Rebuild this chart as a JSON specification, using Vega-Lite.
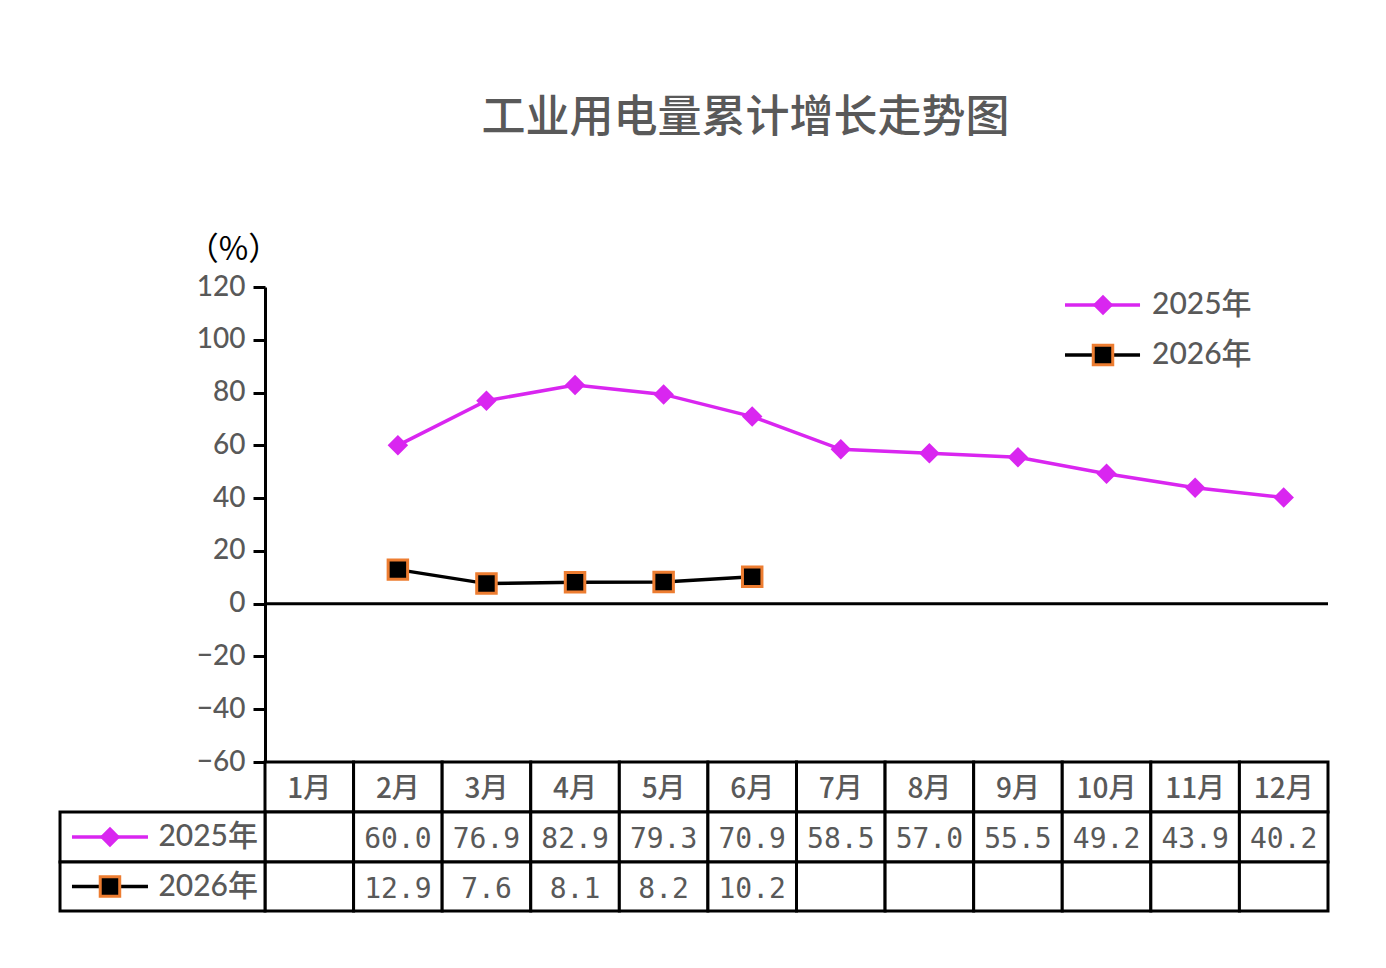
{
  "$schema": "https://vega.github.io/schema/vega-lite/v6.json",
  "description": "工业用电量累计增长走势图",
  "width": 1063,
  "height": 475,
  "autosize": {"type": "none"},
  "padding": {"left": 265, "top": 287, "right": 58, "bottom": 206},
  "background": "white",
  "title": {
    "text": "工业用电量累计增长走势图",
    "font": "Noto Sans CJK SC",
    "fontSize": 44,
    "fontWeight": 500,
    "color": "#595959",
    "anchor": "middle",
    "frame": "group",
    "dx": -51,
    "baseline": "bottom",
    "offset": 48
  },
  "config": {"view": {"stroke": null}, "scale": {"continuousPadding": 0}},
  "resolve": {"axis": {"x": "independent", "y": "independent"}},
  "datasets": {
    "points": [
      {"month": 2, "series": "2025年", "value": 60.0},
      {"month": 3, "series": "2025年", "value": 76.9},
      {"month": 4, "series": "2025年", "value": 82.9},
      {"month": 5, "series": "2025年", "value": 79.3},
      {"month": 6, "series": "2025年", "value": 70.9},
      {"month": 7, "series": "2025年", "value": 58.5},
      {"month": 8, "series": "2025年", "value": 57.0},
      {"month": 9, "series": "2025年", "value": 55.5},
      {"month": 10, "series": "2025年", "value": 49.2},
      {"month": 11, "series": "2025年", "value": 43.9},
      {"month": 12, "series": "2025年", "value": 40.2},
      {"month": 2, "series": "2026年", "value": 12.9},
      {"month": 3, "series": "2026年", "value": 7.6},
      {"month": 4, "series": "2026年", "value": 8.1},
      {"month": 5, "series": "2026年", "value": 8.2},
      {"month": 6, "series": "2026年", "value": 10.2}
    ],
    "months": [
      {"month": 1, "label": "1月"},
      {"month": 2, "label": "2月"},
      {"month": 3, "label": "3月"},
      {"month": 4, "label": "4月"},
      {"month": 5, "label": "5月"},
      {"month": 6, "label": "6月"},
      {"month": 7, "label": "7月"},
      {"month": 8, "label": "8月"},
      {"month": 9, "label": "9月"},
      {"month": 10, "label": "10月"},
      {"month": 11, "label": "11月"},
      {"month": 12, "label": "12月"}
    ],
    "series": [
      {"series": "2025年"},
      {"series": "2026年"}
    ]
  },
  "data": {"name": "points"},
  "layer": [
    {
      "mark": {"type": "line", "strokeWidth": 3.5},
      "encoding": {
        "x": {
          "field": "month",
          "type": "quantitative",
          "scale": {"domain": [0.5, 12.5], "nice": false, "zero": false, "padding": 0},
          "axis": null
        },
        "y": {
          "field": "value",
          "type": "quantitative",
          "scale": {"domain": [-60, 120], "nice": false, "zero": false},
          "axis": {
            "orient": "left",
            "values": [-60, -40, -20, 0, 20, 40, 60, 80, 100, 120],
            "format": "d",
            "grid": false,
            "labelFont": "Lato",
            "labelFontSize": 28,
            "labelFontWeight": 500,
            "labelColor": "#595959",
            "labelPadding": 8,
            "tickColor": "black",
            "tickWidth": 3,
            "tickSize": 12,
            "domainColor": "black",
            "domainWidth": 3,
            "title": "（%）",
            "titleAngle": 0,
            "titleX": -32,
            "titleY": -38,
            "titleAlign": "center",
            "titleBaseline": "middle",
            "titleFont": "Noto Sans CJK SC",
            "titleFontSize": 32,
            "titleFontWeight": "normal",
            "titleColor": "black"
          }
        },
        "color": {
          "field": "series",
          "type": "nominal",
          "scale": {"domain": ["2025年", "2026年"], "range": ["#D926F0", "#000000"]},
          "legend": null
        }
      }
    },
    {
      "data": {"values": [{"baseline": 0}]},
      "mark": {"type": "rule", "color": "black", "strokeWidth": 3},
      "encoding": {
        "x": {"datum": 0.5, "type": "quantitative", "axis": null},
        "x2": {"datum": 12.5},
        "y": {"field": "baseline", "type": "quantitative", "axis": null}
      }
    },
    {
      "transform": [{"filter": "datum.series === '2025年'"}],
      "mark": {"type": "point", "shape": "diamond", "size": 420, "filled": true, "color": "#D926F0", "opacity": 1},
      "encoding": {
        "x": {"field": "month", "type": "quantitative", "axis": null},
        "y": {"field": "value", "type": "quantitative", "axis": null}
      }
    },
    {
      "transform": [{"filter": "datum.series === '2026年'"}],
      "mark": {"type": "point", "shape": "square", "size": 380, "filled": true, "fill": "black", "stroke": "#ED7D31", "strokeWidth": 3, "opacity": 1},
      "encoding": {
        "x": {"field": "month", "type": "quantitative", "axis": null},
        "y": {"field": "value", "type": "quantitative", "axis": null}
      }
    },
    {
      "data": {"name": "months"},
      "mark": {"type": "bar", "width": 88.583, "fill": "white", "stroke": "black", "strokeWidth": 3},
      "encoding": {
        "x": {"field": "month", "type": "quantitative", "axis": null},
        "y": {"datum": -60, "type": "quantitative", "axis": null},
        "y2": {"datum": -78.95}
      }
    },
    {
      "data": {"name": "months"},
      "mark": {"type": "bar", "width": 88.583, "fill": "white", "stroke": "black", "strokeWidth": 3},
      "encoding": {
        "x": {"field": "month", "type": "quantitative", "axis": null},
        "y": {"datum": -78.95, "type": "quantitative", "axis": null},
        "y2": {"datum": -97.9}
      }
    },
    {
      "data": {"name": "months"},
      "mark": {"type": "bar", "width": 88.583, "fill": "white", "stroke": "black", "strokeWidth": 3},
      "encoding": {
        "x": {"field": "month", "type": "quantitative", "axis": null},
        "y": {"datum": -97.9, "type": "quantitative", "axis": null},
        "y2": {"datum": -116.46}
      }
    },
    {
      "data": {"name": "series"},
      "transform": [{"filter": "datum.series === '2025年'"}],
      "mark": {"type": "rect", "fill": "white", "stroke": "black", "strokeWidth": 3},
      "encoding": {
        "x": {"datum": -1.814, "type": "quantitative", "axis": null},
        "x2": {"datum": 0.5},
        "y": {"datum": -78.95, "type": "quantitative", "axis": null},
        "y2": {"datum": -97.9}
      }
    },
    {
      "data": {"name": "series"},
      "transform": [{"filter": "datum.series === '2026年'"}],
      "mark": {"type": "rect", "fill": "white", "stroke": "black", "strokeWidth": 3},
      "encoding": {
        "x": {"datum": -1.814, "type": "quantitative", "axis": null},
        "x2": {"datum": 0.5},
        "y": {"datum": -97.9, "type": "quantitative", "axis": null},
        "y2": {"datum": -116.46}
      }
    },
    {
      "data": {"name": "months"},
      "mark": {"type": "text", "font": "Noto Sans CJK SC", "fontSize": 28, "fontWeight": 500, "color": "#595959", "baseline": "middle", "align": "center", "dy": 3},
      "encoding": {
        "x": {"field": "month", "type": "quantitative", "axis": null},
        "y": {"datum": -69.47, "type": "quantitative", "axis": null},
        "text": {"field": "label"}
      }
    },
    {
      "transform": [{"filter": "datum.series === '2025年'"}],
      "mark": {"type": "text", "font": "DejaVu Sans Mono", "fontSize": 28, "color": "#595959", "baseline": "middle", "align": "center", "dy": 3},
      "encoding": {
        "x": {"field": "month", "type": "quantitative", "axis": null},
        "y": {"datum": -88.42, "type": "quantitative", "axis": null},
        "text": {"field": "value", "type": "quantitative", "format": ".1f"}
      }
    },
    {
      "transform": [{"filter": "datum.series === '2026年'"}],
      "mark": {"type": "text", "font": "DejaVu Sans Mono", "fontSize": 28, "color": "#595959", "baseline": "middle", "align": "center", "dy": 3},
      "encoding": {
        "x": {"field": "month", "type": "quantitative", "axis": null},
        "y": {"datum": -107.2, "type": "quantitative", "axis": null},
        "text": {"field": "value", "type": "quantitative", "format": ".1f"}
      }
    },
    {
      "data": {"name": "series"},
      "transform": [{"filter": "datum.series === '2025年'"}],
      "mark": {"type": "rule", "color": "#D926F0", "strokeWidth": 3.5},
      "encoding": {
        "x": {"datum": -1.679, "type": "quantitative", "axis": null},
        "x2": {"datum": -0.821},
        "y": {"datum": -88.42, "type": "quantitative", "axis": null}
      }
    },
    {
      "data": {"name": "series"},
      "transform": [{"filter": "datum.series === '2025年'"}],
      "mark": {"type": "point", "shape": "diamond", "size": 420, "filled": true, "color": "#D926F0", "opacity": 1},
      "encoding": {
        "x": {"datum": -1.25, "type": "quantitative", "axis": null},
        "y": {"datum": -88.42, "type": "quantitative", "axis": null}
      }
    },
    {
      "data": {"name": "series"},
      "transform": [{"filter": "datum.series === '2025年'"}],
      "mark": {"type": "text", "font": "Lato, Noto Sans CJK SC", "fontSize": 30, "fontWeight": 500, "color": "#595959", "baseline": "middle", "align": "right", "dx": -7},
      "encoding": {
        "x": {"datum": 0.5, "type": "quantitative", "axis": null},
        "y": {"datum": -88.42, "type": "quantitative", "axis": null},
        "text": {"field": "series"}
      }
    },
    {
      "data": {"name": "series"},
      "transform": [{"filter": "datum.series === '2026年'"}],
      "mark": {"type": "rule", "color": "black", "strokeWidth": 3.5},
      "encoding": {
        "x": {"datum": -1.679, "type": "quantitative", "axis": null},
        "x2": {"datum": -0.821},
        "y": {"datum": -107.2, "type": "quantitative", "axis": null}
      }
    },
    {
      "data": {"name": "series"},
      "transform": [{"filter": "datum.series === '2026年'"}],
      "mark": {"type": "point", "shape": "square", "size": 380, "filled": true, "fill": "black", "stroke": "#ED7D31", "strokeWidth": 3, "opacity": 1},
      "encoding": {
        "x": {"datum": -1.25, "type": "quantitative", "axis": null},
        "y": {"datum": -107.2, "type": "quantitative", "axis": null}
      }
    },
    {
      "data": {"name": "series"},
      "transform": [{"filter": "datum.series === '2026年'"}],
      "mark": {"type": "text", "font": "Lato, Noto Sans CJK SC", "fontSize": 30, "fontWeight": 500, "color": "#595959", "baseline": "middle", "align": "right", "dx": -7},
      "encoding": {
        "x": {"datum": 0.5, "type": "quantitative", "axis": null},
        "y": {"datum": -107.2, "type": "quantitative", "axis": null},
        "text": {"field": "series"}
      }
    },
    {
      "data": {"name": "series"},
      "transform": [{"filter": "datum.series === '2025年'"}],
      "mark": {"type": "rule", "color": "#D926F0", "strokeWidth": 3.5},
      "encoding": {
        "x": {"datum": 9.531, "type": "quantitative", "axis": null},
        "x2": {"datum": 10.378},
        "y": {"datum": 113.2, "type": "quantitative", "axis": null}
      }
    },
    {
      "data": {"name": "series"},
      "transform": [{"filter": "datum.series === '2025年'"}],
      "mark": {"type": "point", "shape": "diamond", "size": 420, "filled": true, "color": "#D926F0", "opacity": 1},
      "encoding": {
        "x": {"datum": 9.96, "type": "quantitative", "axis": null},
        "y": {"datum": 113.2, "type": "quantitative", "axis": null}
      }
    },
    {
      "data": {"name": "series"},
      "transform": [{"filter": "datum.series === '2025年'"}],
      "mark": {"type": "text", "font": "Lato, Noto Sans CJK SC", "fontSize": 30, "fontWeight": 500, "color": "#595959", "baseline": "middle", "align": "left"},
      "encoding": {
        "x": {"datum": 10.513, "type": "quantitative", "axis": null},
        "y": {"datum": 113.2, "type": "quantitative", "axis": null},
        "text": {"field": "series"}
      }
    },
    {
      "data": {"name": "series"},
      "transform": [{"filter": "datum.series === '2026年'"}],
      "mark": {"type": "rule", "color": "black", "strokeWidth": 3.5},
      "encoding": {
        "x": {"datum": 9.531, "type": "quantitative", "axis": null},
        "x2": {"datum": 10.378},
        "y": {"datum": 94.2, "type": "quantitative", "axis": null}
      }
    },
    {
      "data": {"name": "series"},
      "transform": [{"filter": "datum.series === '2026年'"}],
      "mark": {"type": "point", "shape": "square", "size": 380, "filled": true, "fill": "black", "stroke": "#ED7D31", "strokeWidth": 3, "opacity": 1},
      "encoding": {
        "x": {"datum": 9.96, "type": "quantitative", "axis": null},
        "y": {"datum": 94.2, "type": "quantitative", "axis": null}
      }
    },
    {
      "data": {"name": "series"},
      "transform": [{"filter": "datum.series === '2026年'"}],
      "mark": {"type": "text", "font": "Lato, Noto Sans CJK SC", "fontSize": 30, "fontWeight": 500, "color": "#595959", "baseline": "middle", "align": "left"},
      "encoding": {
        "x": {"datum": 10.513, "type": "quantitative", "axis": null},
        "y": {"datum": 94.2, "type": "quantitative", "axis": null},
        "text": {"field": "series"}
      }
    }
  ]
}
